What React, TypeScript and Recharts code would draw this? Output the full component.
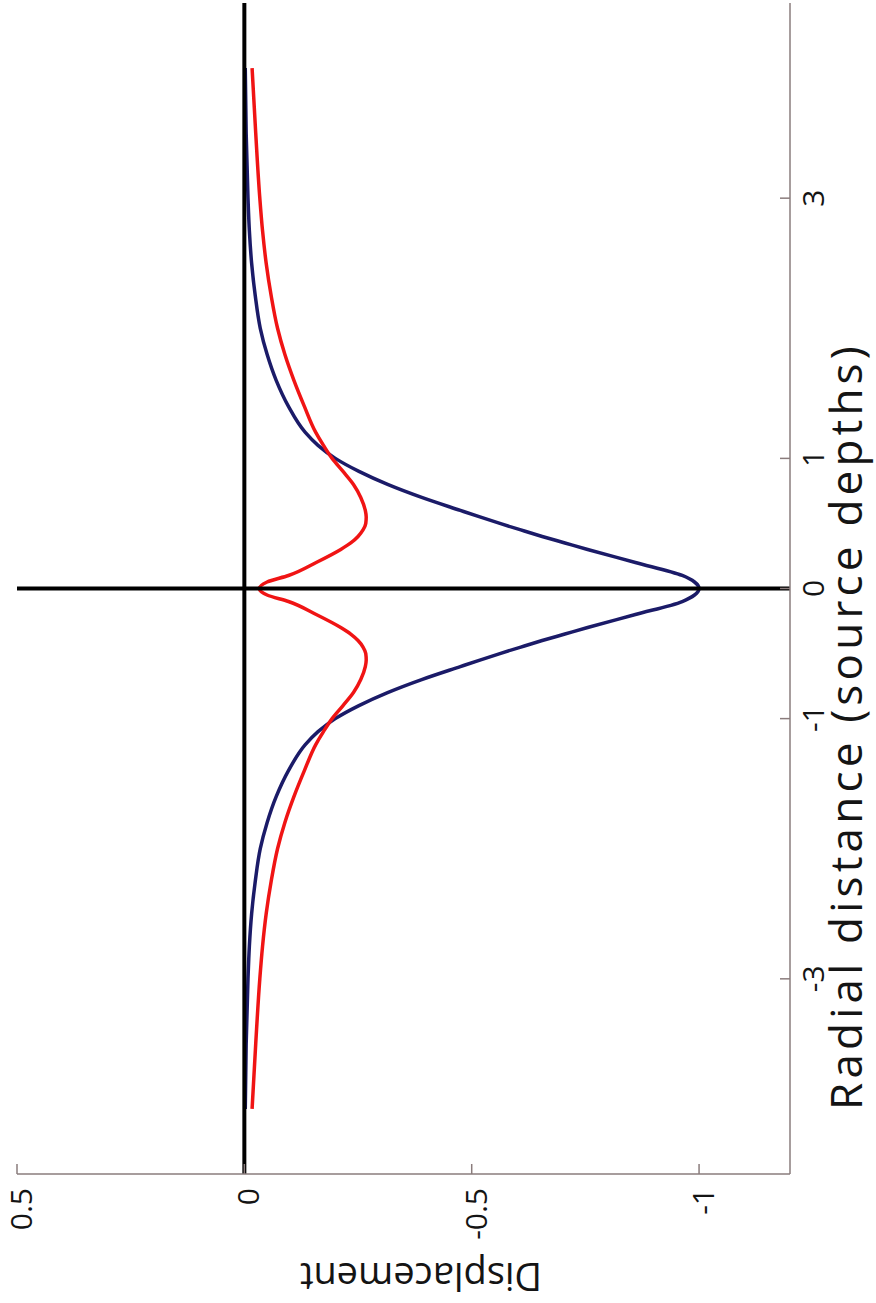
import React from "react";
import { LineChart, Line, XAxis, YAxis, ReferenceLine, Label } from "recharts";

// radial distance in source depths
const distance = [
	-4, -3.5, -3, -2.75, -2.5, -2.25, -2, -1.8, -1.6, -1.4, -1.2, -1.1, -1, -0.9,
	-0.8, -0.7, -0.6, -0.55, -0.5, -0.45, -0.4, -0.35, -0.3, -0.2, -0.1, -0.05, 0,
	0.05, 0.1, 0.2, 0.3, 0.35, 0.4, 0.45, 0.5, 0.55, 0.6, 0.7, 0.8, 0.9, 1, 1.1,
	1.2, 1.4, 1.6, 1.8, 2, 2.25, 2.5, 2.75, 3, 3.5, 4,
];

// blue curve (vertical displacement)
const vertical = [
	-0.002, -0.004, -0.008, -0.011, -0.016, -0.024, -0.035, -0.05, -0.07, -0.097,
	-0.134, -0.162, -0.2, -0.252, -0.315, -0.39, -0.475, -0.518, -0.562, -0.608,
	-0.655, -0.705, -0.755, -0.86, -0.963, -0.99, -1.0, -0.99, -0.963, -0.86,
	-0.755, -0.705, -0.655, -0.608, -0.562, -0.518, -0.475, -0.39, -0.315, -0.252,
	-0.2, -0.162, -0.134, -0.097, -0.07, -0.05, -0.035, -0.024, -0.016, -0.011,
	-0.008, -0.004, -0.002,
];

// red curve (horizontal displacement)
const horizontal = [
	-0.017, -0.025, -0.034, -0.04, -0.048, -0.059, -0.073, -0.089, -0.109, -0.132,
	-0.157, -0.174, -0.193, -0.217, -0.24, -0.256, -0.266, -0.268, -0.267, -0.261,
	-0.25, -0.234, -0.212, -0.158, -0.097, -0.05, -0.033, -0.05, -0.097, -0.158,
	-0.212, -0.234, -0.25, -0.261, -0.267, -0.268, -0.266, -0.256, -0.24, -0.217,
	-0.193, -0.174, -0.157, -0.132, -0.109, -0.089, -0.073, -0.059, -0.048, -0.04,
	-0.034, -0.025, -0.017,
];

const distanceTicks = [-3, -1, 0, 1, 3];
const displacementTicks = [0.5, 0, -0.5, -1];

const data = distance.map((r, i) => ({
	r,
	vertical: vertical[i],
	horizontal: horizontal[i],
}));

const FONT = "'Open Sans', sans-serif";
const FRAME = "#8a7c7c";
const TEXT = "#141414";

// the figure is drawn lying on its side, then turned a quarter turn
const W = 1303;
const H = 876;

const BottomTick = (props: any) => {
	const { x, y, payload } = props;
	return (
		<g>
			<line x1={x} y1={y} x2={x} y2={y - 10} stroke={FRAME} strokeWidth={1.5} />
			<text x={x} y={y + 34} textAnchor="middle" fontSize={30} fill={TEXT} fontFamily={FONT}>
				{payload.value}
			</text>
		</g>
	);
};

const TopTick = (props: any) => {
	const { x, y } = props;
	return <line x1={x} y1={y} x2={x} y2={y + 10} stroke={FRAME} strokeWidth={1.5} />;
};

const LeftTick = (props: any) => {
	const { x, y, payload } = props;
	return (
		<g>
			<line x1={x} y1={y} x2={x + 10} y2={y} stroke={FRAME} strokeWidth={1.5} />
			<text x={x - 14} y={y + 15} textAnchor="end" fontSize={30} fill={TEXT} fontFamily={FONT}>
				{payload.value}
			</text>
		</g>
	);
};

const RightTick = (props: any) => {
	const { x, y } = props;
	return <line x1={x} y1={y} x2={x - 10} y2={y} stroke={FRAME} strokeWidth={1.5} />;
};

export default function App() {
	return (
		<div
			style={{
				position: "fixed",
				left: 0,
				top: 0,
				width: H,
				height: W,
				background: "#fff",
				overflow: "hidden",
			}}
		>
			<div
				style={{
					position: "absolute",
					left: 0,
					top: 0,
					width: W,
					height: H,
					transformOrigin: "0 0",
					transform: `translate(0px, ${W}px) rotate(-90deg)`,
				}}
			>
				<LineChart
					width={W}
					height={H}
					data={data}
					margin={{ top: 17, right: 3, bottom: 0, left: 0 }}
				>
					<XAxis
						dataKey="r"
						type="number"
						domain={[-4.5, 4.5]}
						ticks={distanceTicks}
						allowDataOverflow
						height={86}
						tickSize={0}
						tickMargin={0}
						tickLine={false}
						axisLine={{ stroke: FRAME, strokeWidth: 1.5 }}
						tick={<BottomTick />}
						interval={0}
					>
						<Label
							content={() => (
								<text
									x={577}
									y={862}
									textAnchor="middle"
									fontSize={44}
									letterSpacing={4.2}
									fill={TEXT}
									fontFamily={FONT}
								>
									Radial distance (source depths)
								</text>
							)}
						/>
					</XAxis>
					<XAxis
						xAxisId="top"
						orientation="top"
						type="number"
						domain={[-4.5, 4.5]}
						ticks={distanceTicks}
						allowDataOverflow
						height={0}
						tickSize={0}
						tickMargin={0}
						tickLine={false}
						axisLine={{ stroke: FRAME, strokeWidth: 1.5 }}
						tick={<TopTick />}
						interval={0}
					/>
					<YAxis
						type="number"
						domain={[-1.2, 0.5]}
						ticks={displacementTicks}
						allowDataOverflow
						width={129}
						tickSize={0}
						tickMargin={0}
						tickLine={false}
						axisLine={{ stroke: FRAME, strokeWidth: 1.5 }}
						tick={<LeftTick />}
						interval={0}
					>
						<Label
							content={() => (
								<text
									x={40}
									y={421}
									transform="rotate(-90 40 421)"
									textAnchor="middle"
									fontSize={38}
									fill={TEXT}
									fontFamily={FONT}
								>
									Displacement
								</text>
							)}
						/>
					</YAxis>
					<YAxis
						yAxisId="right"
						orientation="right"
						type="number"
						domain={[-1.2, 0.5]}
						ticks={displacementTicks}
						allowDataOverflow
						width={0}
						tickSize={0}
						tickMargin={0}
						tickLine={false}
						axisLine={{ stroke: FRAME, strokeWidth: 1.5 }}
						tick={<RightTick />}
						interval={0}
					/>
					<Line
						type="monotone"
						dataKey="vertical"
						stroke="#1b1b68"
						strokeWidth={3.5}
						dot={false}
						isAnimationActive={false}
					/>
					<Line
						type="monotone"
						dataKey="horizontal"
						stroke="#f01414"
						strokeWidth={3.5}
						dot={false}
						isAnimationActive={false}
					/>
					<ReferenceLine y={0} stroke="#000" strokeWidth={4} />
					<ReferenceLine x={0} stroke="#000" strokeWidth={4} />
				</LineChart>
			</div>
		</div>
	);
}
